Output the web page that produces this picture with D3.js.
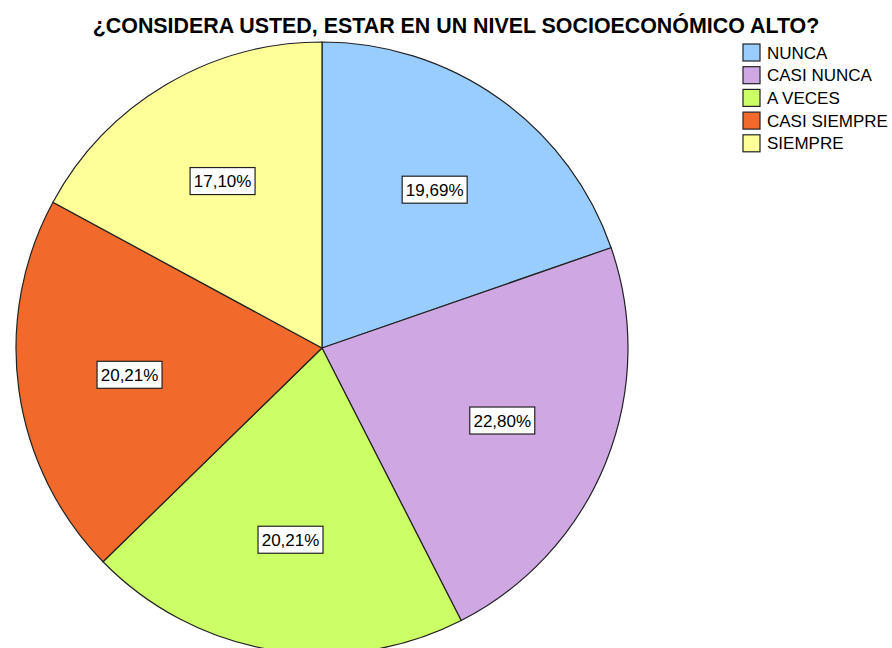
<!DOCTYPE html>
<meta charset="utf-8">
<head>
    <title>Nivel socioeconomico</title>
    <script src="https://d3js.org/d3.v7.min.js"></script>
    <style>
        body { margin: 0; background: #ffffff; }
        text { font-family: Arial, "Liberation Sans", sans-serif; }
    </style>
</head>
<body>
<div id="my_dataviz"></div>
<script>

// data
var categories = ["NUNCA", "CASI NUNCA", "A VECES", "CASI SIEMPRE", "SIEMPRE"];
var percents = [19.69, 22.80, 20.21, 20.21, 17.10];
var labels = ["19,69%", "22,80%", "20,21%", "20,21%", "17,10%"];
var colors = ["#99ccff", "#cfa8e3", "#ccff66", "#f26a2b", "#ffff99"];

var width = 892, height = 648;
var cx = 322, cy = 348, radius = 306;

var svg = d3.select("#my_dataviz")
    .append("svg")
    .attr("width", width)
    .attr("height", height);

// title
svg.append("text")
    .attr("x", 456)
    .attr("y", 33)
    .attr("text-anchor", "middle")
    .style("font-size", "21.4px")
    .style("font-weight", "bold")
    .text("¿CONSIDERA USTED, ESTAR EN UN NIVEL SOCIOECONÓMICO ALTO?");

var pie = d3.pie().sort(null).value(function(d) { return d; });
var arcs = pie(percents);

var arc = d3.arc().innerRadius(0).outerRadius(radius);
var labelArc = d3.arc().innerRadius(radius * 0.635).outerRadius(radius * 0.635);

var g = svg.append("g")
    .attr("transform", "translate(" + cx + "," + cy + ")");

g.selectAll("path")
    .data(arcs)
    .enter()
    .append("path")
    .attr("d", arc)
    .attr("fill", function(d, i) { return colors[i]; })
    .attr("stroke", "#222")
    .attr("stroke-width", 1.2)
    .attr("stroke-linejoin", "round");

// labels with boxes
var lab = g.selectAll(".lab")
    .data(arcs)
    .enter()
    .append("g")
    .attr("class", "lab")
    .attr("transform", function(d) { return "translate(" + labelArc.centroid(d) + ")"; });

lab.append("rect")
    .attr("x", -32.5).attr("y", -13.5)
    .attr("width", 65).attr("height", 27)
    .attr("fill", "white")
    .attr("stroke", "#222")
    .attr("stroke-width", 1.2);

lab.append("text")
    .attr("text-anchor", "middle")
    .attr("dy", "0.36em")
    .style("font-size", "17px")
    .text(function(d, i) { return labels[i]; });

// legend
var legend = svg.append("g")
    .attr("transform", "translate(743,44)");

var rows = legend.selectAll(".row")
    .data(categories)
    .enter()
    .append("g")
    .attr("transform", function(d, i) { return "translate(0," + (i * 22.7) + ")"; });

rows.append("rect")
    .attr("width", 17).attr("height", 17)
    .attr("fill", function(d, i) { return colors[i]; })
    .attr("stroke", "#222")
    .attr("stroke-width", 1.2);

rows.append("text")
    .attr("x", 24)
    .attr("y", 8.5)
    .attr("dy", "0.36em")
    .style("font-size", "17px")
    .text(function(d) { return d; });

</script>
</body>
</html>
